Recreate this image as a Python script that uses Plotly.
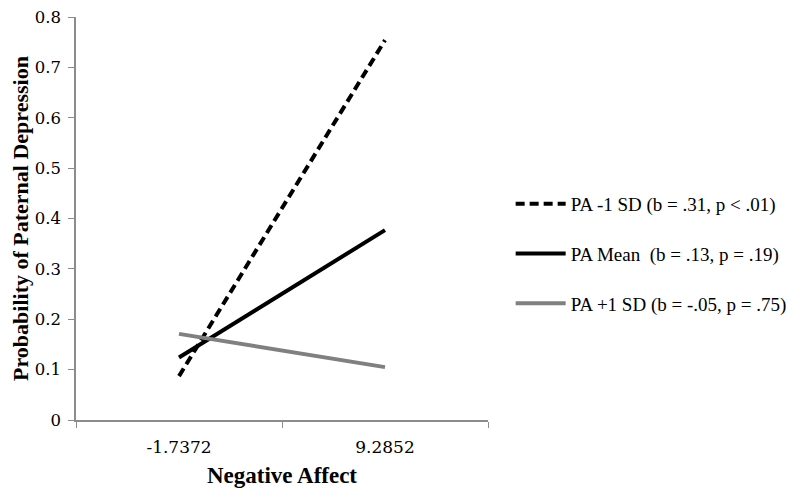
import plotly.graph_objects as go

categories = ["-1.7372", "9.2852"]
series_names = [
    "PA -1 SD (b = .31, p < .01)",
    "PA Mean  (b = .13, p = .19)",
    "PA +1 SD (b = -.05, p = .75)",
]
pa_minus = [0.087, 0.754]
pa_mean = [0.124, 0.377]
pa_plus = [0.171, 0.105]
y_ticks = [0, 0.1, 0.2, 0.3, 0.4, 0.5, 0.6, 0.7, 0.8]
y_tick_labels = ["0", "0.1", "0.2", "0.3", "0.4", "0.5", "0.6", "0.7", "0.8"]

styles = [
    dict(color="black", width=4, dash="9px,5px"),
    dict(color="black", width=4, dash="solid"),
    dict(color="#808080", width=4, dash="solid"),
]

fig = go.Figure()
for i, (name, vals) in enumerate(zip(series_names, [pa_minus, pa_mean, pa_plus])):
    fig.add_trace(go.Scatter(
        x=categories, y=vals, mode="lines", name=name,
        line=styles[i], legendgroup=f"g{i}",
    ))

axis_color = "#8c8c8c"
fig.update_layout(
    width=792, height=485,
    margin=dict(l=68, r=312, t=9, b=73, autoexpand=False),
    plot_bgcolor="white", paper_bgcolor="white",
    font=dict(family="Liberation Serif", color="black"),
    showlegend=True,
    legend=dict(
        x=1.055, y=0.412, xanchor="left", yanchor="middle",
        font=dict(family="Liberation Serif", size=19, color="black"),
        tracegroupgap=22, itemwidth=50,
        bgcolor="rgba(0,0,0,0)",
    ),
    xaxis=dict(
        type="category", range=[-0.5, 1.5], automargin=False,
        showline=True, linecolor=axis_color, linewidth=1.5,
        ticks="outside", tickson="boundaries", ticklen=6, tickcolor=axis_color,
        showgrid=False, zeroline=False, ticklabelstandoff=11,
        tickfont=dict(family="DejaVu Serif", size=17, color="black"),
        title=dict(text="<b>Negative Affect</b>", font=dict(family="Liberation Serif", size=23, color="black"), standoff=11),
    ),
    yaxis=dict(
        range=[0, 0.8], tickvals=y_ticks, ticktext=y_tick_labels, automargin=False,
        showline=True, linecolor=axis_color, linewidth=1.5,
        ticks="outside", ticklen=6, tickcolor=axis_color,
        showgrid=False, zeroline=False, ticklabelstandoff=4,
        ticklabeloverflow="allow",
        tickfont=dict(family="DejaVu Serif", size=16.5, color="black"),
        title=dict(text="<b>Probability of Paternal Depression</b>", font=dict(family="Liberation Serif", size=22, color="black"), standoff=10),
    ),
)

fig.write_html("out.html")
